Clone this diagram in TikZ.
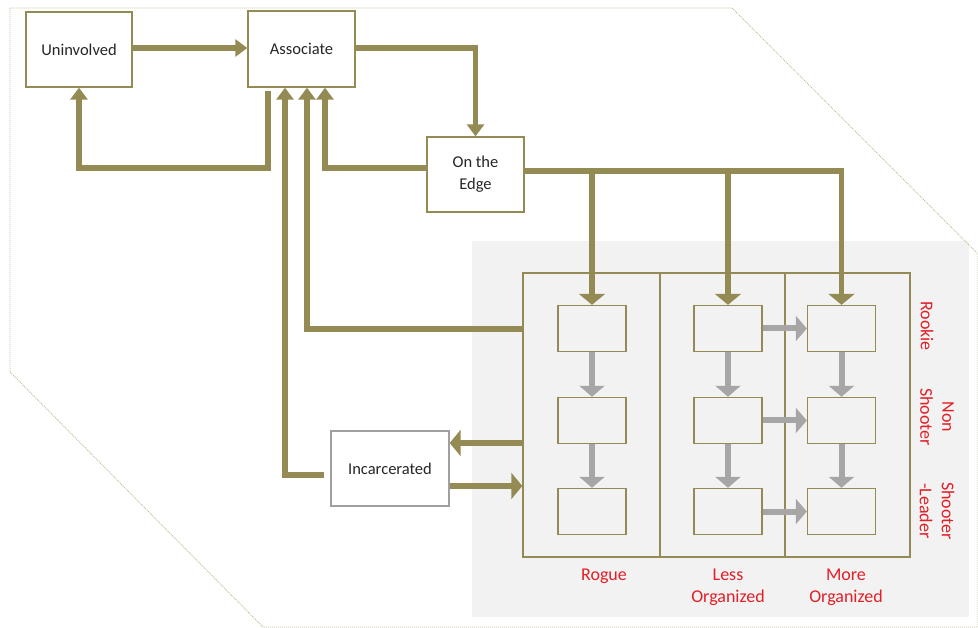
\documentclass[tikz,border=0pt]{standalone}
\usepackage{fontspec}
\setmainfont{Carlito}
\usetikzlibrary{arrows.meta}
\definecolor{oliv}{HTML}{948A54}
\definecolor{garr}{HTML}{A6A6A6}
\definecolor{bgg}{HTML}{F2F2F2}
\definecolor{outl}{HTML}{C4BD97}
\definecolor{redt}{RGB}{226,30,38}
\definecolor{txt}{HTML}{262626}
\definecolor{incb}{HTML}{A0A0A0}
\newcommand\myNodeFont{\fontsize{16.5}{22}\selectfont}
\newcommand\myRedFont{\fontsize{18}{22}\selectfont}
\tikzset{
 box/.style={draw=oliv, line width=1.4pt, fill=white, inner sep=0pt, align=center, font=\myNodeFont, text=txt},
 sbox/.style={draw=oliv, line width=1.4pt, inner sep=0pt, minimum width=68pt, minimum height=46pt},
 oarrow/.style={draw=oliv, line width=5.5pt, -{Triangle[width=17pt,length=12pt]}},
 oline/.style={draw=oliv, line width=5.5pt},
 barrow/.style={draw=oliv, line width=5.5pt, -{Triangle[width=26pt,length=11pt]}},
 garrow/.style={draw=garr, line width=6pt, -{Triangle[width=25pt,length=11pt]}},
 redlab/.style={text=redt, font=\myRedFont, align=center, inner sep=0pt},
}
\begin{document}
\begin{tikzpicture}[x=1pt,y=-1pt]
\useasboundingbox (0,0) rectangle (978,628);
% background panel
\fill[bgg] (472,241) rectangle (969,617);
% outer dotted outline
\draw[outl, line width=0.9pt, dash pattern=on 1pt off 1pt]
  (10,8) -- (732,8) -- (978,254) -- (978,627) -- (263,627) -- (10,372) -- cycle;
% main boxes
\node[box, minimum width=106pt, minimum height=75pt] (unin) at (79,49.5) {Uninvolved};
\node[box, minimum width=107pt, minimum height=76pt] (assoc) at (301.5,49) {Associate};
\node[box, minimum width=97pt, minimum height=75pt] (edge) at (475.5,174.5) {On the\\Edge};
\node[box, draw=incb, minimum width=118pt, minimum height=75pt] (inc) at (390,468.5) {Incarcerated};
% grid frame
\node[draw=oliv, line width=1.4pt, inner sep=0pt, minimum width=387pt, minimum height=284pt] (frame) at (716.5,415) {};
\draw[oliv, line width=1.4pt] (frame.north -| 660,0) -- (frame.south -| 660,0);
\draw[oliv, line width=1.4pt] (frame.north -| 785,0) -- (frame.south -| 785,0);
% small boxes
\foreach \r/\y in {1/328.5, 2/420.5, 3/511.5}{
  \node[sbox] (b\r1) at (592,\y) {};
  \node[sbox] (b\r2) at (728,\y) {};
  \node[sbox] (b\r3) at (841.5,\y) {};
}
% gray arrows
\foreach \c in {1,2,3}{
  \draw[garrow] (b1\c.south) -- (b2\c.north);
  \draw[garrow] (b2\c.south) -- (b3\c.north);
}
\foreach \r in {1,2,3}{
  \draw[garrow] (b\r2.east) -- (b\r3.west);
}
% olive connectors
\draw[oarrow] (unin.east |- 0,48) -- (assoc.west |- 0,48);
\draw[oarrow] (assoc.east |- 0,48) -| (edge.north);
\draw[oarrow] ([xshift=-33.5pt,yshift=-3pt]assoc.south) |- (unin.south |- 0,168) -- (unin.south);
\draw[oarrow] ([yshift=6.5pt]edge.west) -| ([xshift=23.5pt]assoc.south);
\draw[oarrow] (frame.west |- 0,329) -| ([xshift=5.5pt]assoc.south);
\draw[oarrow] ([xshift=-6pt,yshift=-6.5pt]inc.west) -| ([xshift=-16.5pt]assoc.south);
\draw[barrow] (frame.west |- 0,443) -- (inc.east |- 0,443);
\draw[barrow] (inc.east |- 0,486) -- (frame.west |- 0,486);
\draw[barrow] ([yshift=3.5pt]edge.east) -| (b13.north);
\draw[barrow] (b11.north |- 0,171) -- (b11.north);
\draw[barrow] (b12.north |- 0,171) -- (b12.north);
% labels
\node[redlab] (lrog) at (604,576) {Rogue};
\node[redlab] (lless) at (728,587) {Less\\Organized};
\node[redlab] (lmore) at (846,587) {More\\Organized};
\node[redlab, rotate=-90] (lrook) at (927,326) {Rookie};
\node[redlab, rotate=-90] (lnon) at (937,417) {Non\\Shooter};
\node[redlab, rotate=-90] (llead) at (937,511) {Shooter\\-Leader};
\end{tikzpicture}
\end{document}
